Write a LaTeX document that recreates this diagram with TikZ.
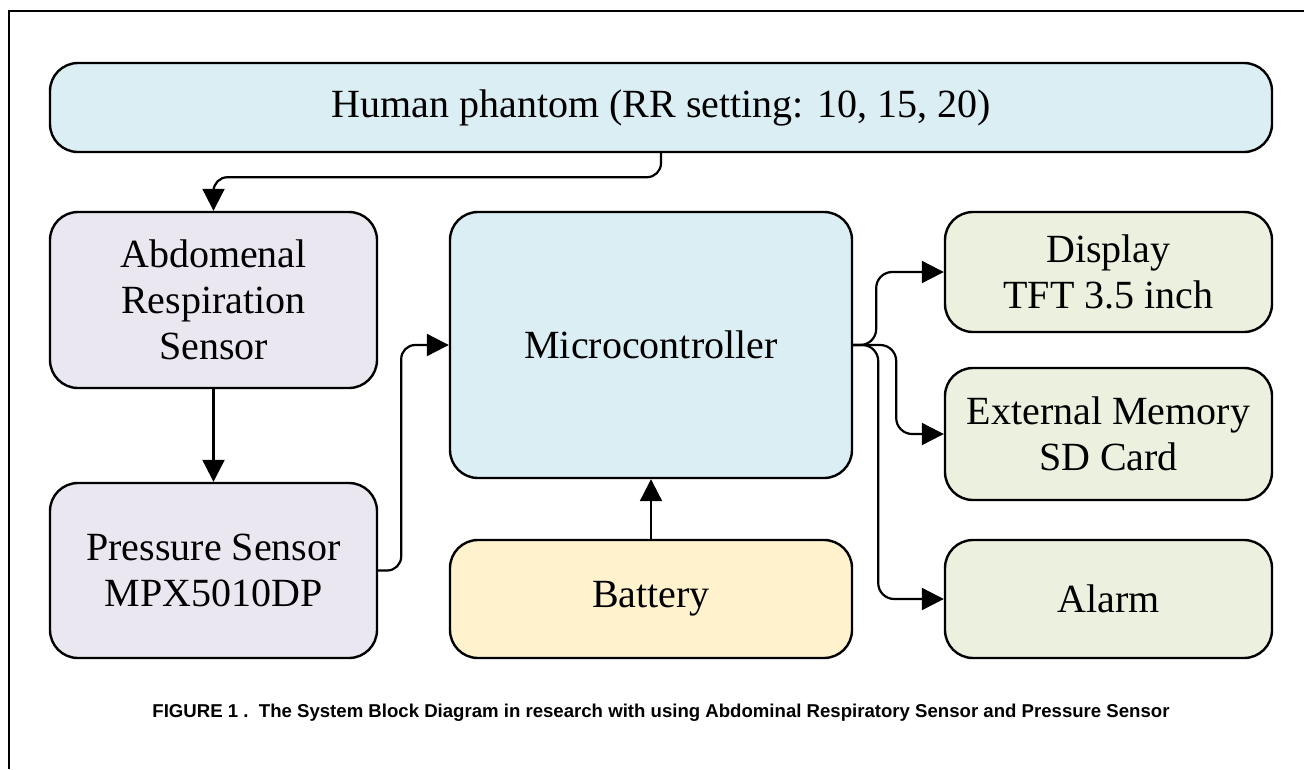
\documentclass[tikz,border=0pt]{standalone}
\usepackage{fontspec}
\setmainfont{Liberation Serif}
\newfontfamily\capfont{Liberation Sans}
\usetikzlibrary{arrows.meta}
\definecolor{cblue}{HTML}{DAEEF3}
\definecolor{cpurp}{HTML}{EAE7F0}
\definecolor{cgreen}{HTML}{EBF1DE}
\definecolor{cyell}{HTML}{FFF2CC}
\tikzset{
  blk/.style={draw=black, line width=2.4pt, rounded corners=28pt, align=center, inner sep=0pt,
    font=\fontsize{40}{46}\selectfont},
  arr/.style={draw=black, line width=2.2pt, -{Triangle[length=22pt,width=22pt]}},
}
\begin{document}
\begin{tikzpicture}[x=1pt,y=-1pt]
\useasboundingbox (0,0) rectangle (1304,769);
\draw[line width=1.6pt] (9,769) -- (9,11) -- (1304,11);
\node[blk, fill=cblue, minimum width=1222pt, minimum height=89pt] (human) at (661,107.5) {Human phantom (RR setting: 10, 15, 20)};
\node[blk, fill=cpurp, minimum width=327pt, minimum height=176pt] (abd) at (213.5,300) {Abdomenal\\Respiration\\Sensor};
\node[blk, fill=cpurp, minimum width=327pt, minimum height=175pt] (press) at (213.5,570.5) {Pressure Sensor\\MPX5010DP};
\node[blk, fill=cblue, minimum width=402pt, minimum height=266pt] (micro) at (651,345) {Microcontroller};
\node[blk, fill=cyell, minimum width=402pt, minimum height=118pt] (batt) at (651,599) {Battery};
\node[blk, fill=cgreen, minimum width=327pt, minimum height=120pt] (disp) at (1108.5,272) {Display\\TFT 3.5 inch};
\node[blk, fill=cgreen, minimum width=327pt, minimum height=132pt] (mem) at (1108.5,434) {External Memory\\SD Card};
\node[blk, fill=cgreen, minimum width=327pt, minimum height=118pt] (alarm) at (1108.5,599) {Alarm};
\node[font=\capfont\bfseries\fontsize{18.6}{21}\selectfont] (cap) at (661,713) {FIGURE 1 .\ \ The System Block Diagram in research with using Abdominal Respiratory Sensor and Pressure Sensor};
\draw[arr, rounded corners=14pt] (human.south) -- ++(0,24) -| (abd.north);
\draw[arr] (abd.south) -- (press.north);
\draw[arr, rounded corners=14pt] (press.east) -- ++(23,0) |- (micro.west);
\draw[arr] (batt.north) -- (micro.south);
\draw[arr, rounded corners=16pt] (micro.east) -- ++(23,0) |- (disp.west);
\draw[arr, rounded corners=16pt] (micro.east) -- ++(43,0) |- (mem.west);
\draw[arr, rounded corners=16pt] (micro.east) -- ++(25,0) |- (alarm.west);
\end{tikzpicture}
\end{document}
